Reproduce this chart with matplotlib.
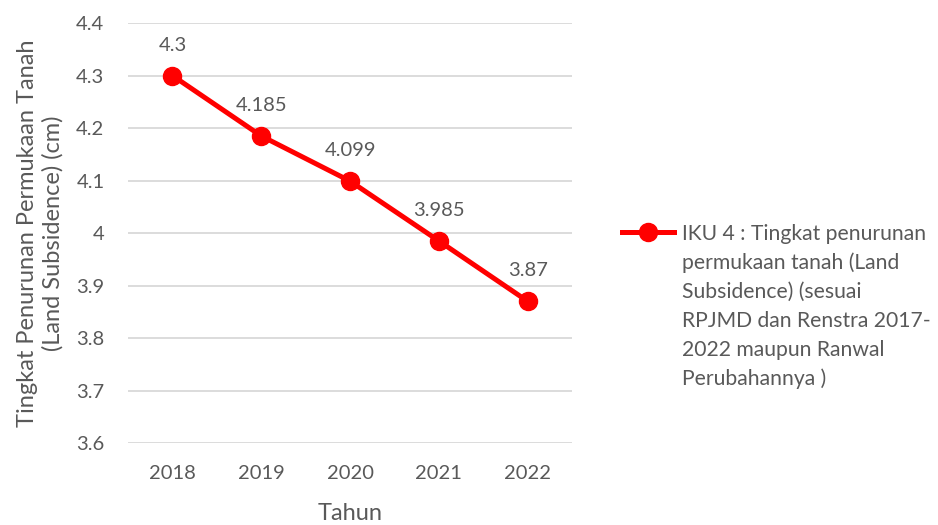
import matplotlib
matplotlib.use("Agg")
import matplotlib.pyplot as plt
from matplotlib.lines import Line2D

tahun = ["2018", "2019", "2020", "2021", "2022"]
nilai = [4.3, 4.185, 4.099, 3.985, 3.87]
label_nilai = ["4.3", "4.185", "4.099", "3.985", "3.87"]
yticks = [3.6, 3.7, 3.8, 3.9, 4.0, 4.1, 4.2, 4.3, 4.4]
ytick_labels = ["3.6", "3.7", "3.8", "3.9", "4", "4.1", "4.2", "4.3", "4.4"]
legend_label = ("IKU 4 : Tingkat penurunan\npermukaan tanah (Land\nSubsidence) (sesuai\n"
                "RPJMD dan Renstra 2017-\n2022 maupun Ranwal\nPerubahannya )")

plt.rcParams['font.family'] = ['Lato', 'DejaVu Sans']
teks = '#595959'
merah = '#ff0000'

fig = plt.figure(figsize=(9.38, 5.25), dpi=100)
ax = fig.add_axes([0.1365, 0.156, 0.4735, 0.8])

x = list(range(len(tahun)))
ax.plot(x, nilai, color=merah, lw=3.6, marker='o', ms=13, zorder=3)
for xi, v, lab in zip(x, nilai, label_nilai):
    ax.annotate(lab, (xi, v), xytext=(0, 22), textcoords='offset points',
                ha='center', va='center', fontsize=14.5, color=teks)

ax.set_xlim(-0.5, len(tahun) - 0.5)
ax.set_ylim(3.6, 4.4)
ax.set_xticks(x)
ax.set_xticklabels(tahun)
ax.set_yticks(yticks)
ax.set_yticklabels(ytick_labels)
ax.tick_params(length=0, labelsize=14.5, labelcolor=teks)
ax.tick_params(axis='x', pad=16)
ax.tick_params(axis='y', pad=17)
ax.grid(axis='y', color='#d9d9d9', lw=1.3)
ax.set_axisbelow(True)
for s in ax.spines.values():
    s.set_visible(False)

ax.set_xlabel("Tahun", fontsize=17, color=teks, labelpad=15)
ax.set_ylabel("Tingkat Penurunan Permukaan Tanah\n(Land Subsidence) (cm)",
              fontsize=17, color=teks, labelpad=9, linespacing=1.25)

# legend drawn by hand so the marker sits on the first line
fig.add_artist(Line2D([0.663, 0.719], [0.558, 0.558], color=merah, lw=3.6,
                      transform=fig.transFigure))
fig.add_artist(Line2D([0.691], [0.558], color=merah, marker='o', ms=13,
                      transform=fig.transFigure))
fig.text(0.727, 0.574, legend_label, fontsize=15.2, color=teks, va='top',
         ha='left', linespacing=1.55)

fig.savefig("out.png", dpi=100)
